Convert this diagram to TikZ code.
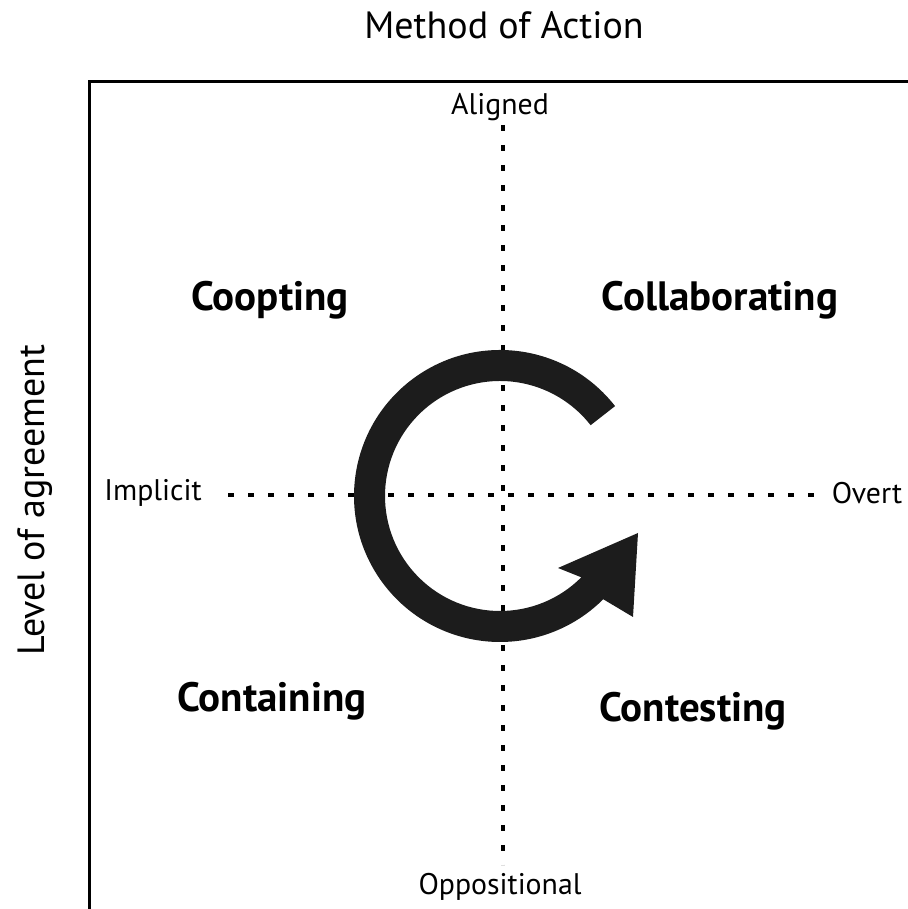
\documentclass[tikz,border=0pt]{standalone}
\usepackage{fontspec}
\setmainfont{PT Sans}
\usepackage{tikz}
\usetikzlibrary{calc}
\definecolor{ink}{RGB}{28,28,28}
\tikzset{
  titlelabel/.style={font=\fontsize{19}{23}\selectfont, inner sep=0pt},
  axislabel/.style={font=\fontsize{14.9}{18}\selectfont, inner sep=0pt},
  quadrant/.style={font=\bfseries\fontsize{20.5}{24}\selectfont, inner sep=0pt},
  axisline/.style={line width=1.6pt, dash pattern=on 3.2pt off 6.8pt},
  frame/.style={line width=1.5pt},
  cycleArrow/.style={fill=ink}
}

\begin{document}
\begin{tikzpicture}[x=0.5pt,y=0.5pt]
  \useasboundingbox (0,0) rectangle (908,909);
  % frame, only top and left edge visible
  \draw[frame] (908,827) -- (89,827) -- (89,0);
  % titles
  \node[titlelabel] (method) at (504,884) {Method of Action};
  \node[titlelabel, rotate=90] (level) at (35,409) {Level of agreement};
  % axis end labels
  \node[axislabel] (aligned) at (500,802) {Aligned};
  \node[axislabel] (oppos) at (500,22) {Oppositional};
  \node[axislabel] (implicit) at (153,416) {Implicit};
  \node[axislabel] (overt) at (867,416) {Overt};
  % axes
  \coordinate (vtop) at (503,784);
  \coordinate (vbot) at (503,44);
  \coordinate (hleft) at (228,414);
  \coordinate (hright) at (818,414);
  \draw[axisline] (vtop) -- (vbot);
  \draw[axisline] (hleft) -- (hright);
  % quadrants
  \node[quadrant] (coopt) at (270,609) {Coopting};
  \node[quadrant] (collab) at (720,609) {Collaborating};
  \node[quadrant] (contain) at (272,208) {Containing};
  \node[quadrant] (contest) at (693,198) {Contesting};
  % cycle arrow
  \coordinate (C) at (500,413);
  \fill[cycleArrow] ($(C)+(38:146)$) arc[start angle=38, end angle=315, radius=146]
    -- (633,292) -- (638,376) -- (558,341)
    -- ($(C)+(315:115)$) arc[start angle=315, end angle=38, radius=115] -- cycle;
\end{tikzpicture}
\end{document}
